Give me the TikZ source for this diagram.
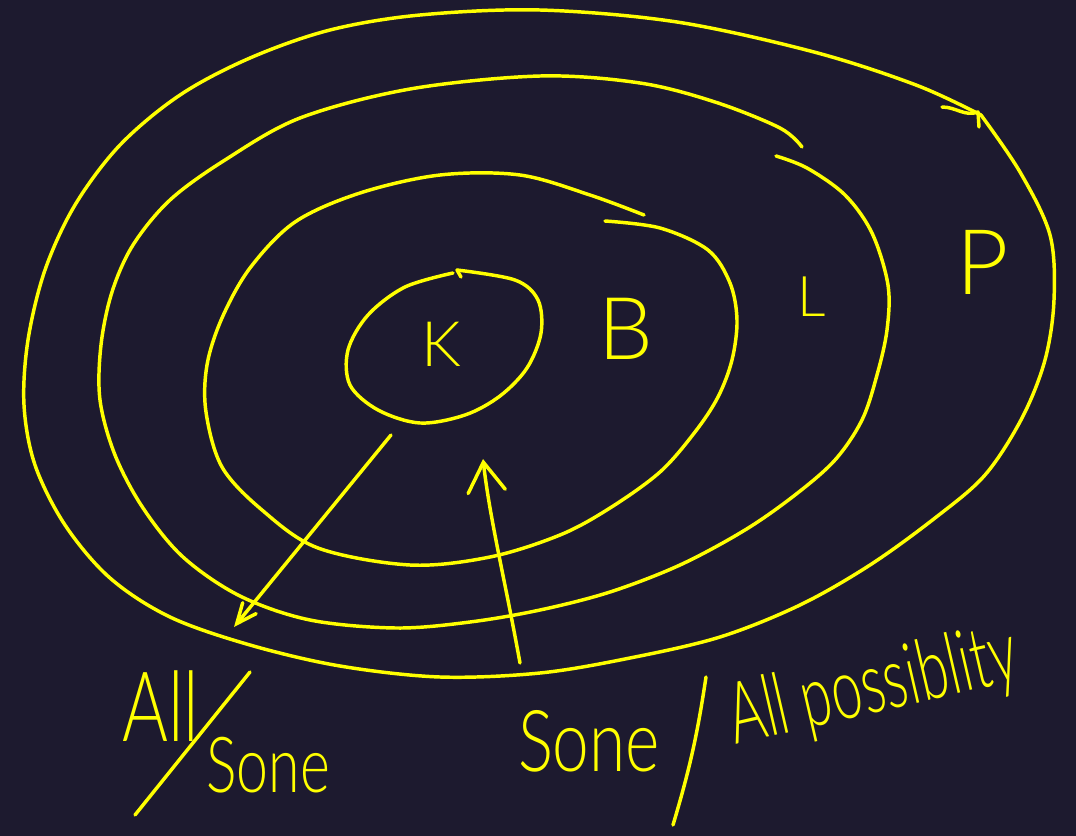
\documentclass[tikz,border=0pt]{standalone}
\usepackage{fontspec}
\newfontfamily\hand{Lato Light}
\usetikzlibrary{arrows.meta}
\definecolor{bg}{HTML}{1D1A2F}
\definecolor{pen}{HTML}{FFFF00}
\begin{document}
\begin{tikzpicture}[x=0.75pt,y=-0.75pt,
  ink/.style={draw=pen, line width=2.6pt, line cap=round, line join=round},
  lbl/.style={text=pen, inner sep=0pt},
  fs/.style={font=\hand\fontsize{#1}{#1}\selectfont}]
\fill[bg] (0,0) rectangle (1076,836);
\useasboundingbox (0,0) rectangle (1076,836);

% outer set P
\draw[ink] plot[smooth, tension=0.55] coordinates {(981,115) (916,85) (814,52) (677,22) (540,10) (420,15) (330,30) (250,58) (180,95) (120,145) (75,205) (45,270) (28,340) (24,405) (35,465) (65,525) (110,578) (170,617) (250,645) (340,666) (440,677) (540,673) (630,658) (720,637) (800,605) (870,565) (935,518) (985,475) (1022,418) (1045,360) (1054,300) (1050,235) (1020,172) (981,115)};
\draw[ink] (942,107) to[out=0,in=200] (978,112) -- (979,127);

% set L
\draw[ink] plot[smooth, tension=0.55] coordinates {(776,156) (807,168) (845,195) (872,233) (888,285) (887,330) (877,375) (862,420) (835,460) (795,495) (745,530) (680,565) (610,592) (540,610) (470,622) (396,628) (310,620) (240,596) (183,557) (143,508) (115,455) (100,400) (101,345) (112,292) (133,245) (170,200) (225,160) (300,118) (410,89) (540,76) (640,83) (715,102) (780,128) (802,147)};

% set B
\draw[ink] plot[smooth, tension=0.55] coordinates {(605,221) (660,228) (708,250) (730,283) (737,320) (732,360) (718,397) (695,432) (660,472) (610,508) (560,535) (490,557) (410,565) (318,548) (262,510) (222,467) (206,412) (207,365) (222,318) (250,268) (295,222) (360,193) (440,175) (520,175) (590,195) (644,215)};

% set K
\draw[ink] plot[smooth, tension=0.55] coordinates {(453,273) (405,287) (368,315) (348,350) (350,385) (378,410) (420,423) (465,415) (500,396) (527,368) (541,333) (538,300) (515,280) (457,270)};
\draw[ink] (457,270) -- (461,277);

% letters
\node[lbl, fs=47] (k) at (441,344) {K};
\node[lbl, fs=65] (b) at (626,329) {B};
\node[lbl, fs=42] (l) at (812,297) {L};
\node[lbl, fs=68] (p) at (983,262) {P};

% labels bottom left
\node[lbl, fs=73] (all1) at (161,706) {\scalebox{0.72}[1]{All}};
\coordinate (s1a) at (250,672);
\coordinate (s1b) at (135,815);
\draw[ink] (s1a) -- (s1b);
\node[lbl, fs=58] (some1) at (268,765) {\scalebox{0.74}[1]{Sone}};

% labels bottom right
\node[lbl, fs=64] (some2) at (589,741) {\scalebox{0.77}[1]{Sone}};
\coordinate (s2a) at (706,677);
\coordinate (s2b) at (673,825);
\draw[ink] (s2a) to[bend left=4] (s2b);
\node[lbl, fs=64, anchor=base west, rotate=13] (allp) at (735,745) {\scalebox{0.64}[1]{All possiblity}};

% arrows
\coordinate (a1s) at (391,435);
\coordinate (a1e) at (234,627);
\draw[ink, -{Straight Barb[length=15pt,width=13pt,line cap=round]}] (a1s) -- (a1e);
\coordinate (a2s) at (520,663);
\coordinate (a2e) at (483,459);
\draw[ink, -{Straight Barb[length=22pt,width=28pt,line cap=round]}] (a2s) .. controls (505,580) and (490,520) .. (a2e);
\end{tikzpicture}
\end{document}
